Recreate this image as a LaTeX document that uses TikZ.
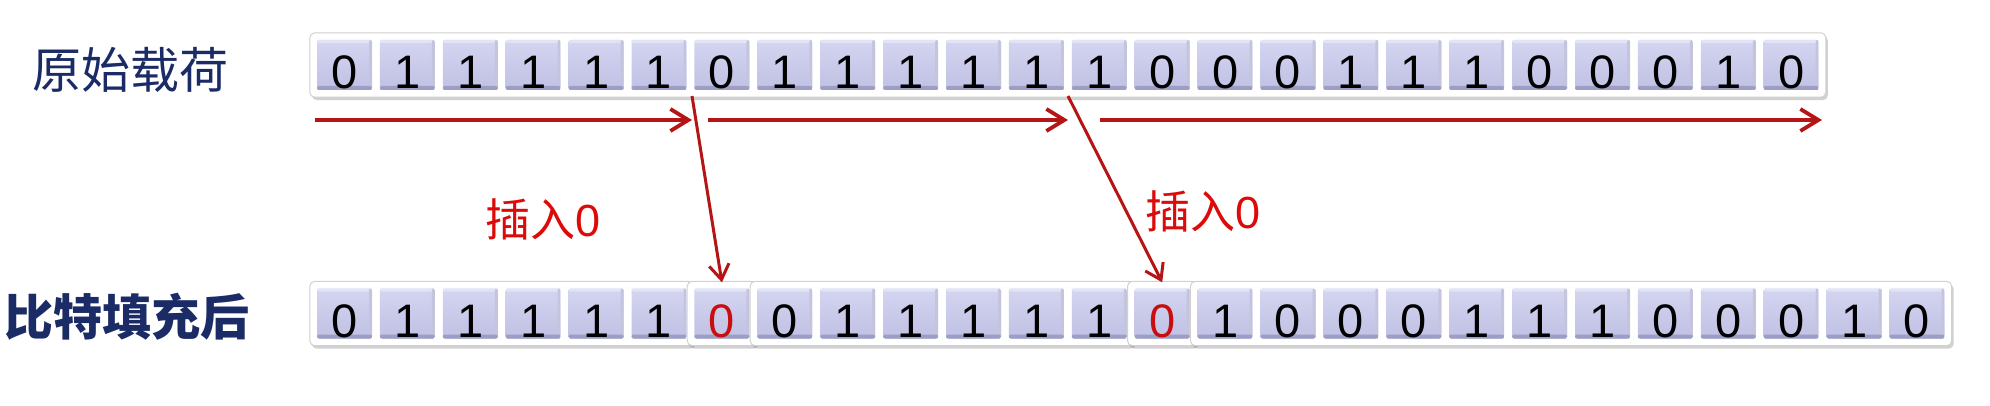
\documentclass[tikz,border=0pt]{standalone}
\usepackage{fontspec}
\setmainfont{Liberation Sans}
\newfontfamily\cjk{Noto Sans CJK SC}
\usetikzlibrary{arrows.meta,shadows,fit,backgrounds}
\definecolor{navy}{HTML}{1B2B66}
\definecolor{arrowred}{HTML}{B51515}
\definecolor{labelred}{HTML}{DD0A0A}
\definecolor{bitred}{HTML}{C80E0E}
\definecolor{celltop}{HTML}{D4D5F0}
\definecolor{cellbot}{HTML}{C0C1E4}
\definecolor{celledge}{HTML}{9C9EC6}
\definecolor{cellhi}{HTML}{E2E3F6}
\tikzset{
  bit/.style={minimum width=55pt, minimum height=50pt, inner sep=0pt,
    rounded corners=2pt, top color=celltop, bottom color=cellbot,
    text height=47pt, text depth=0pt, font=\fontsize{47}{47}\selectfont,
    path picture={
      \fill[cellhi] ([yshift=-3pt]path picture bounding box.north west) rectangle (path picture bounding box.north east);
      \fill[celledge!60] ([xshift=-3pt]path picture bounding box.south east) rectangle (path picture bounding box.north east);
      \fill[celledge] (path picture bounding box.south west) rectangle ([yshift=4pt]path picture bounding box.south east);
    }},
  box/.style={draw=black!18, line width=1pt, fill=white, rounded corners=5pt,
    inner sep=7pt, drop shadow={shadow xshift=2pt, shadow yshift=-3pt, opacity=0.3, fill=black!60}},
  harrow/.style={draw=arrowred, line width=3.8pt, -{Straight Barb[length=18pt,width=22pt]}},
  darrow/.style={draw=arrowred, line width=3pt, -{Straight Barb[length=15pt,width=20pt]}},
  rowlabel/.style={text=navy, font=\cjk\fontsize{49}{49}\selectfont, inner sep=0pt},
  inslabel/.style={text=labelred, font=\fontsize{45}{45}\selectfont, inner sep=0pt},
}
\begin{document}
\begin{tikzpicture}[x=1pt,y=-1pt]
\useasboundingbox (0,0) rectangle (1990,406);
% top row
\foreach \b [count=\i from 0] in {0,1,1,1,1,1,0,1,1,1,1,1,1,0,0,0,1,1,1,0,0,0,1,0}
  \node[bit] (t\i) at ({344.5+62.9*\i},65) {\b};
% bottom row
\foreach \b [count=\i from 0] in {0,1,1,1,1,1,{\color{bitred}0},0,1,1,1,1,1,{\color{bitred}0},1,0,0,0,1,1,1,0,0,0,1,0}
  \node[bit] (b\i) at ({344.5+62.9*\i},313.5) {\b};
\begin{scope}[on background layer]
  \node[box, fit=(t0)(t23)] (ctop) {};
  \node[box, fit=(b0)(b5)] (cA) {};
  \node[box, fit=(b6)] (cI1) {};
  \node[box, fit=(b7)(b12)] (cB) {};
  \node[box, fit=(b13)] (cI2) {};
  \node[box, fit=(b14)(b25)] (cC) {};
\end{scope}
% labels
\node[rowlabel] (lab1) at (130,70) {原始载荷};
\node[rowlabel, font=\cjk\bfseries\fontsize{49}{49}\selectfont] (lab2) at (127,317) {比特填充后};
\node[inslabel] (ins1) at (543,219) {{\cjk 插入}0};
\node[inslabel] (ins2) at (1203,211) {{\cjk 插入}0};
% arrows
\coordinate (h1s) at (315,120);
\coordinate (h1e) at (692,120);
\coordinate (h2s) at (708,120);
\coordinate (h2e) at (1068,120);
\coordinate (h3s) at (1100,120);
\coordinate (h3e) at (1822,120);
\coordinate (d1s) at (692,96);
\coordinate (d2s) at (1068,96);
\draw[harrow] (h1s) -- (h1e);
\draw[harrow] (h2s) -- (h2e);
\draw[harrow] (h3s) -- (h3e);
\draw[darrow] (d1s) -- ([yshift=6pt]b6.north);
\draw[darrow] (d2s) -- ([yshift=6pt]b13.north);
\end{tikzpicture}
\end{document}
